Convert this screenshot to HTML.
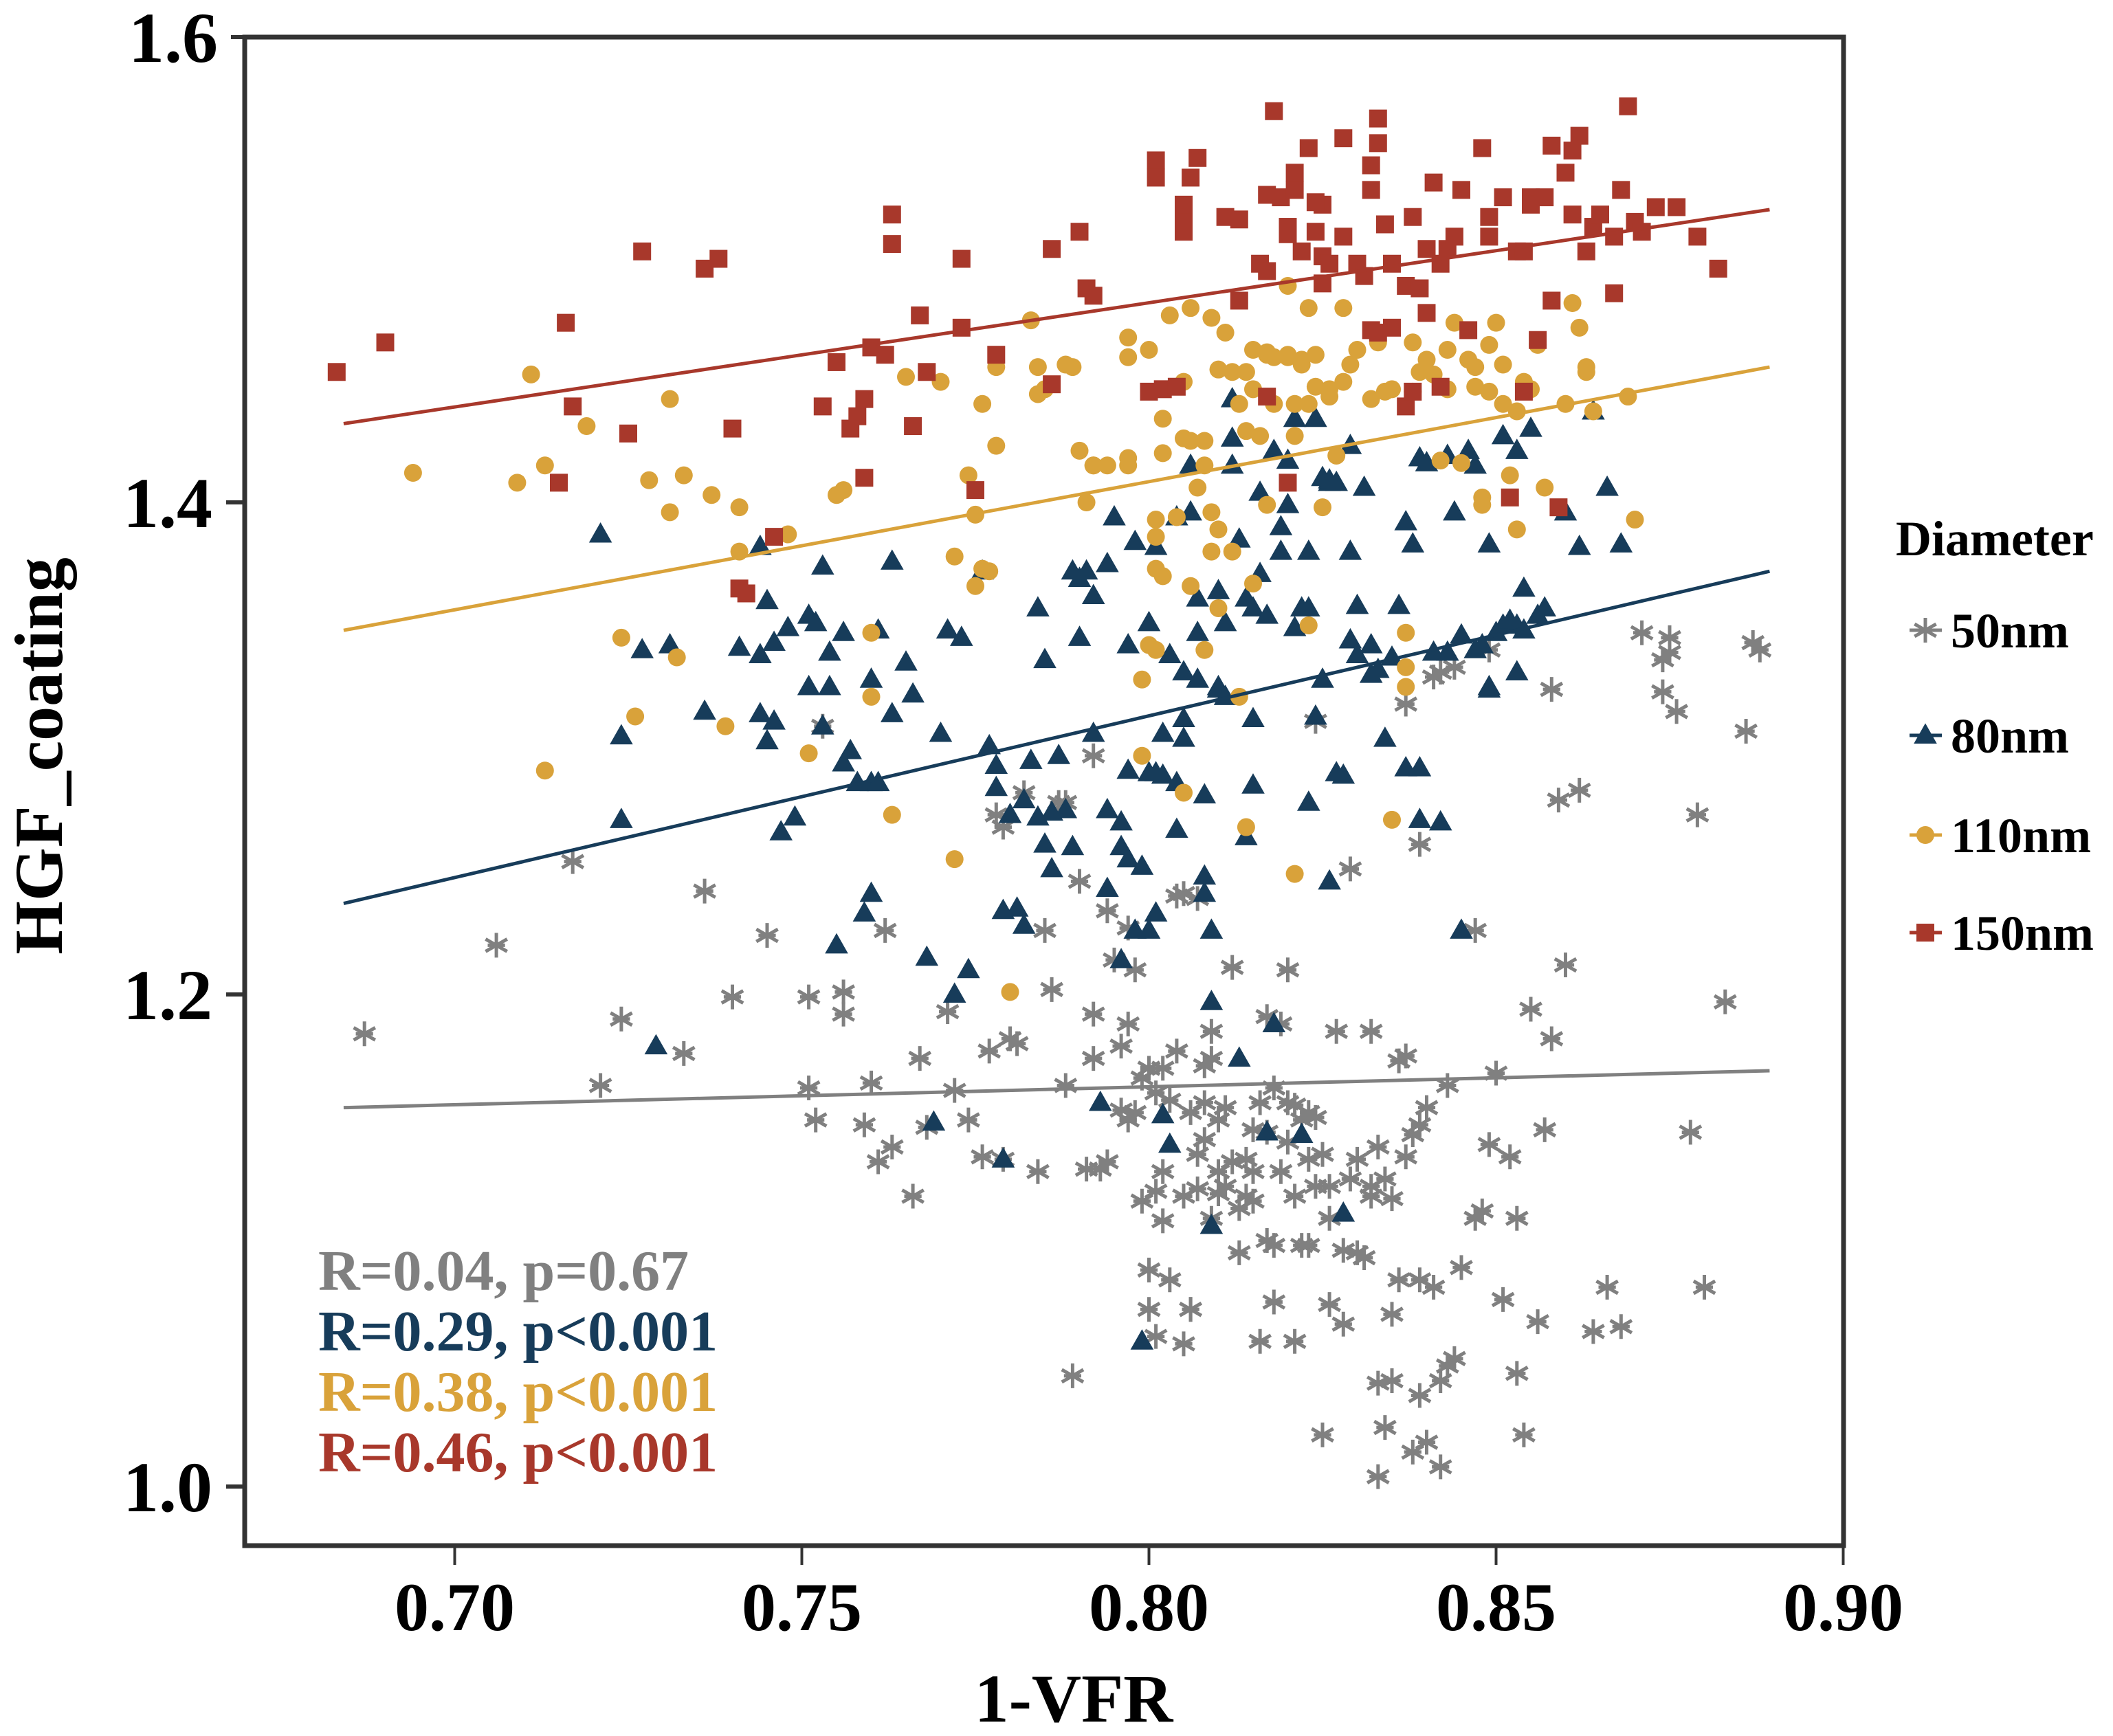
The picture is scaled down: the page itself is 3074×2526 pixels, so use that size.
<!DOCTYPE html>
<html><head><meta charset="utf-8"><style>
html,body{margin:0;padding:0;background:#fff;}
svg{display:block;}
text{font-family:"Liberation Serif",serif;font-weight:bold;}
</style></head>
<body>
<svg id="chart" width="3074" height="2526" viewBox="0 0 3074 2526" xmlns="http://www.w3.org/2000/svg">
<g id="marks"></g>
<rect x="356" y="54" width="2326" height="2195" fill="none" stroke="#333" stroke-width="7"/>
<g id="axes"></g>
<text x="1562" y="2505" font-size="100" text-anchor="middle">1-VFR</text>
<text transform="translate(90,1100) rotate(-90)" font-size="100" text-anchor="middle">HGF_coating</text>
<g font-size="84">
<text x="463" y="1877" fill="#808080">R=0.04, p=0.67</text>
<text x="463" y="1965" fill="#173c5a">R=0.29, p&lt;0.001</text>
<text x="463" y="2053" fill="#d9a23a">R=0.38, p&lt;0.001</text>
<text x="463" y="2141" fill="#a8382b">R=0.46, p&lt;0.001</text>
</g>
<g id="legend">
<text x="2758" y="808" font-size="72">Diameter</text>
</g>
</svg>
<script>
const xTicks=[0.70,0.75,0.80,0.85,0.90];
const xTickLabels=["0.70","0.75","0.80","0.85","0.90"];
const yTicks=[1.0,1.2,1.4];
const yTickLabels=["1.0","1.2","1.4"];
const seriesNames=["50nm","80nm","110nm","150nm"];
const lineX=[0.6840,0.8894];
const lineY50=[1.154,1.169];
const lineY80=[1.237,1.372];
const lineY110=[1.348,1.455];
const lineY150=[1.432,1.519];
const x150=[0.683,0.690,0.716,0.717,0.715,0.727,0.725,0.736,0.738,0.740,0.741,0.742,0.746,0.753,0.755,0.757,0.758,0.759,0.759,0.763,0.763,0.760,0.762,0.766,0.767,0.768,0.773,0.773,0.775,0.778,0.786,0.786,0.790,0.791,0.792,0.801,0.801,0.800,0.802,0.804,0.806,0.805,0.805,0.807,0.805,0.811,0.813,0.813,0.816,0.817,0.817,0.818,0.819,0.820,0.821,0.820,0.821,0.817,0.820,0.822,0.823,0.824,0.825,0.825,0.824,0.825,0.826,0.828,0.828,0.830,0.831,0.832,0.832,0.833,0.833,0.834,0.832,0.833,0.835,0.835,0.837,0.837,0.838,0.839,0.840,0.840,0.841,0.842,0.843,0.844,0.845,0.846,0.848,0.849,0.849,0.851,0.852,0.853,0.854,0.855,0.855,0.857,0.858,0.858,0.859,0.860,0.861,0.861,0.862,0.863,0.864,0.865,0.867,0.867,0.868,0.869,0.870,0.871,0.873,0.876,0.879,0.882,0.856,0.854,0.842,0.838];
const y150=[1.453,1.465,1.473,1.439,1.408,1.502,1.428,1.495,1.499,1.430,1.365,1.363,1.386,1.439,1.457,1.430,1.435,1.410,1.442,1.517,1.505,1.463,1.460,1.431,1.476,1.453,1.499,1.471,1.405,1.460,1.503,1.448,1.510,1.487,1.484,1.539,1.532,1.445,1.446,1.447,1.532,1.516,1.510,1.540,1.521,1.516,1.515,1.482,1.497,1.494,1.525,1.559,1.524,1.512,1.527,1.509,1.534,1.443,1.408,1.502,1.544,1.510,1.500,1.521,1.522,1.489,1.497,1.508,1.548,1.497,1.492,1.537,1.527,1.546,1.556,1.513,1.470,1.469,1.497,1.471,1.439,1.488,1.516,1.487,1.503,1.477,1.530,1.497,1.503,1.508,1.527,1.470,1.544,1.516,1.508,1.524,1.402,1.502,1.502,1.524,1.521,1.524,1.482,1.545,1.398,1.534,1.543,1.517,1.549,1.502,1.512,1.517,1.508,1.485,1.527,1.561,1.514,1.510,1.520,1.520,1.508,1.495,1.466,1.445,1.447,1.445];
const x110=[0.694,0.709,0.711,0.713,0.713,0.719,0.724,0.726,0.728,0.731,0.731,0.732,0.733,0.737,0.739,0.741,0.741,0.748,0.751,0.755,0.756,0.760,0.760,0.763,0.765,0.770,0.772,0.772,0.774,0.775,0.775,0.776,0.776,0.777,0.778,0.778,0.780,0.783,0.784,0.784,0.785,0.788,0.789,0.790,0.791,0.792,0.792,0.794,0.797,0.797,0.797,0.797,0.799,0.799,0.800,0.800,0.801,0.801,0.801,0.801,0.802,0.802,0.802,0.803,0.804,0.805,0.805,0.805,0.806,0.806,0.806,0.807,0.808,0.808,0.808,0.809,0.809,0.809,0.810,0.810,0.810,0.811,0.812,0.812,0.813,0.813,0.814,0.814,0.814,0.815,0.815,0.815,0.816,0.817,0.817,0.817,0.818,0.818,0.820,0.820,0.820,0.821,0.821,0.821,0.822,0.822,0.823,0.823,0.823,0.824,0.824,0.825,0.826,0.826,0.827,0.828,0.828,0.829,0.830,0.832,0.833,0.834,0.835,0.835,0.837,0.837,0.837,0.838,0.838,0.839,0.840,0.841,0.842,0.843,0.843,0.844,0.845,0.846,0.847,0.847,0.848,0.848,0.849,0.849,0.850,0.851,0.851,0.852,0.853,0.853,0.854,0.855,0.856,0.857,0.860,0.861,0.862,0.863,0.863,0.864,0.869,0.870];
const y110=[1.412,1.408,1.452,1.415,1.291,1.431,1.345,1.313,1.409,1.442,1.396,1.337,1.411,1.403,1.309,1.398,1.380,1.387,1.298,1.403,1.405,1.321,1.347,1.273,1.451,1.449,1.255,1.378,1.411,1.366,1.395,1.440,1.373,1.372,1.423,1.455,1.201,1.474,1.455,1.444,1.446,1.456,1.455,1.421,1.400,1.415,1.415,1.415,1.467,1.415,1.459,1.418,1.328,1.297,1.462,1.342,1.393,1.340,1.386,1.373,1.434,1.370,1.420,1.476,1.394,1.426,1.282,1.449,1.479,1.425,1.366,1.406,1.340,1.415,1.425,1.396,1.380,1.475,1.454,1.389,1.357,1.469,1.453,1.380,1.440,1.321,1.268,1.453,1.429,1.462,1.367,1.446,1.427,1.460,1.399,1.461,1.459,1.440,1.459,1.488,1.460,1.440,1.427,1.249,1.458,1.456,1.479,1.440,1.350,1.460,1.447,1.398,1.443,1.446,1.419,1.479,1.449,1.456,1.462,1.442,1.465,1.445,1.446,1.271,1.325,1.333,1.347,1.465,1.445,1.453,1.458,1.452,1.417,1.462,1.446,1.473,1.416,1.458,1.455,1.447,1.402,1.399,1.445,1.464,1.473,1.456,1.440,1.411,1.389,1.437,1.449,1.446,1.464,1.406,1.440,1.481,1.471,1.453,1.455,1.437,1.443,1.393];
const x80=[0.721,0.724,0.724,0.727,0.729,0.731,0.736,0.741,0.744,0.744,0.744,0.745,0.746,0.746,0.745,0.747,0.748,0.749,0.751,0.751,0.752,0.753,0.753,0.754,0.754,0.755,0.756,0.756,0.757,0.758,0.759,0.760,0.760,0.760,0.761,0.761,0.763,0.763,0.765,0.766,0.768,0.769,0.770,0.771,0.772,0.773,0.774,0.776,0.777,0.778,0.778,0.779,0.779,0.780,0.781,0.782,0.782,0.783,0.784,0.784,0.785,0.785,0.786,0.786,0.787,0.788,0.789,0.789,0.790,0.790,0.791,0.792,0.792,0.793,0.794,0.794,0.794,0.795,0.796,0.796,0.796,0.797,0.797,0.797,0.798,0.798,0.799,0.799,0.800,0.800,0.800,0.801,0.801,0.801,0.802,0.802,0.802,0.803,0.803,0.804,0.804,0.804,0.805,0.805,0.805,0.806,0.806,0.807,0.807,0.807,0.808,0.808,0.808,0.809,0.809,0.809,0.810,0.810,0.810,0.811,0.811,0.812,0.812,0.812,0.813,0.813,0.814,0.814,0.815,0.815,0.815,0.816,0.816,0.817,0.817,0.818,0.818,0.819,0.819,0.820,0.820,0.821,0.821,0.822,0.822,0.823,0.823,0.823,0.824,0.824,0.825,0.825,0.826,0.826,0.826,0.827,0.827,0.828,0.828,0.829,0.829,0.829,0.830,0.830,0.831,0.832,0.832,0.833,0.834,0.835,0.836,0.837,0.837,0.838,0.839,0.839,0.839,0.840,0.841,0.842,0.843,0.843,0.844,0.845,0.845,0.846,0.847,0.847,0.848,0.849,0.849,0.849,0.850,0.851,0.851,0.852,0.853,0.853,0.853,0.854,0.854,0.855,0.856,0.857,0.860,0.862,0.864,0.866,0.868];
const y80=[1.387,1.305,1.271,1.340,1.179,1.342,1.315,1.341,1.314,1.382,1.338,1.360,1.343,1.311,1.303,1.266,1.349,1.272,1.354,1.325,1.351,1.309,1.374,1.339,1.325,1.220,1.294,1.347,1.299,1.286,1.233,1.241,1.328,1.286,1.348,1.286,1.376,1.314,1.335,1.322,1.215,1.148,1.306,1.348,1.200,1.345,1.210,1.372,1.301,1.284,1.293,1.234,1.133,1.273,1.235,1.228,1.279,1.295,1.272,1.357,1.261,1.336,1.251,1.274,1.297,1.275,1.260,1.372,1.369,1.345,1.372,1.362,1.306,1.156,1.243,1.375,1.275,1.394,1.214,1.260,1.270,1.255,1.291,1.342,1.384,1.226,1.059,1.252,1.351,1.290,1.226,1.233,1.290,1.382,1.306,1.151,1.289,1.139,1.338,1.267,1.286,1.394,1.304,1.312,1.331,1.396,1.415,1.328,1.361,1.347,1.281,1.241,1.248,1.197,1.106,1.226,1.324,1.364,1.325,1.351,1.321,1.442,1.415,1.426,1.174,1.385,1.361,1.264,1.357,1.312,1.285,1.404,1.371,1.354,1.144,1.421,1.188,1.390,1.380,1.417,1.399,1.349,1.434,1.357,1.143,1.278,1.357,1.380,1.313,1.434,1.410,1.328,1.408,1.246,1.409,1.408,1.290,1.111,1.289,1.423,1.380,1.344,1.358,1.338,1.406,1.330,1.342,1.332,1.304,1.337,1.358,1.292,1.392,1.383,1.418,1.292,1.271,1.416,1.339,1.270,1.419,1.339,1.396,1.226,1.346,1.421,1.340,1.415,1.342,1.383,1.325,1.324,1.347,1.427,1.350,1.352,1.331,1.421,1.350,1.365,1.348,1.430,1.354,1.357,1.396,1.382,1.437,1.406,1.383];
const x50=[0.687,0.706,0.717,0.721,0.724,0.733,0.736,0.740,0.745,0.751,0.751,0.752,0.753,0.756,0.756,0.759,0.760,0.761,0.762,0.763,0.766,0.767,0.768,0.771,0.772,0.774,0.776,0.777,0.778,0.779,0.779,0.780,0.781,0.782,0.784,0.785,0.786,0.787,0.788,0.788,0.789,0.790,0.791,0.792,0.792,0.792,0.793,0.794,0.794,0.795,0.796,0.796,0.797,0.797,0.797,0.798,0.798,0.799,0.799,0.800,0.800,0.800,0.801,0.801,0.801,0.802,0.802,0.802,0.803,0.803,0.804,0.804,0.805,0.805,0.805,0.806,0.806,0.806,0.807,0.807,0.807,0.808,0.808,0.808,0.809,0.809,0.809,0.810,0.810,0.810,0.811,0.811,0.812,0.812,0.813,0.813,0.814,0.814,0.815,0.815,0.815,0.816,0.816,0.817,0.817,0.817,0.818,0.818,0.818,0.819,0.819,0.820,0.820,0.820,0.821,0.821,0.821,0.822,0.822,0.823,0.823,0.823,0.824,0.824,0.824,0.825,0.825,0.826,0.826,0.826,0.827,0.828,0.828,0.829,0.829,0.830,0.830,0.831,0.832,0.832,0.832,0.833,0.833,0.833,0.834,0.834,0.835,0.835,0.835,0.836,0.836,0.837,0.837,0.837,0.838,0.838,0.839,0.839,0.839,0.839,0.840,0.840,0.841,0.841,0.842,0.842,0.842,0.843,0.843,0.844,0.844,0.845,0.847,0.847,0.848,0.849,0.849,0.850,0.851,0.852,0.853,0.853,0.854,0.855,0.856,0.857,0.858,0.858,0.859,0.860,0.862,0.864,0.866,0.868,0.871,0.874,0.875,0.875,0.876,0.874,0.878,0.879,0.880,0.883,0.886,0.887,0.888];
const y50=[1.184,1.220,1.254,1.163,1.190,1.176,1.242,1.199,1.224,1.199,1.162,1.149,1.309,1.201,1.192,1.147,1.164,1.132,1.226,1.138,1.118,1.174,1.146,1.193,1.161,1.149,1.134,1.177,1.273,1.268,1.133,1.182,1.180,1.282,1.128,1.226,1.202,1.278,1.278,1.163,1.045,1.246,1.129,1.192,1.174,1.297,1.129,1.132,1.234,1.214,1.179,1.153,1.188,1.227,1.149,1.210,1.152,1.166,1.116,1.170,1.072,1.088,1.160,1.061,1.120,1.170,1.128,1.108,1.084,1.157,1.177,1.240,1.118,1.241,1.058,1.072,1.152,1.072,1.121,1.239,1.135,1.171,1.156,1.141,1.185,1.109,1.174,1.149,1.119,1.128,1.122,1.154,1.132,1.211,1.095,1.113,1.118,1.133,1.145,1.116,1.128,1.059,1.156,1.144,1.100,1.191,1.162,1.098,1.075,1.188,1.128,1.156,1.210,1.140,1.155,1.059,1.118,1.098,1.149,1.152,1.133,1.098,1.311,1.122,1.150,1.021,1.135,1.122,1.109,1.074,1.185,1.066,1.096,1.125,1.251,1.095,1.133,1.093,1.122,1.118,1.185,1.042,1.004,1.138,1.125,1.024,1.070,1.117,1.043,1.173,1.084,1.134,1.318,1.175,1.143,1.014,1.084,1.147,1.037,1.261,1.018,1.154,1.081,1.329,1.043,1.008,1.331,1.049,1.163,1.052,1.333,1.089,1.109,1.226,1.112,1.340,1.139,1.168,1.076,1.134,1.109,1.046,1.021,1.194,1.067,1.145,1.324,1.182,1.279,1.212,1.283,1.063,1.081,1.065,1.347,1.323,1.345,1.339,1.315,1.336,1.144,1.273,1.081,1.197,1.307,1.343,1.340,1.337];

const NS="http://www.w3.org/2000/svg";
const X0=661.5, XPX=505/0.05, Y0=2163, YPX=716/0.2;
function sx(v){return X0+(v-0.70)*XPX;}
function sy(v){return Y0-(v-1.0)*YPX;}
function mk(tag,attrs,parent){const e=document.createElementNS(NS,tag);for(const k in attrs)e.setAttribute(k,attrs[k]);parent.appendChild(e);return e;}
const COL={"50nm":"#808080","80nm":"#173c5a","110nm":"#d9a23a","150nm":"#a8382b"};
function star(g,cx,cy,col,name){
  const grp=mk('g',{},g);
  
  
  const r=18;
  const d=`M${cx},${cy-r}V${cy+r}M${cx-r*0.87},${cy-r*0.5}L${cx+r*0.87},${cy+r*0.5}M${cx-r*0.87},${cy+r*0.5}L${cx+r*0.87},${cy-r*0.5}M${cx-r*0.7},${cy}H${cx+r*0.7}`;
  mk('path',{d:d,stroke:col,'stroke-width':5,fill:'none'},grp);
}
function tri(g,cx,cy,col,name){
  const s=16;
  const p=mk('polygon',{points:`${cx},${cy-s*1.1} ${cx-s*1.05},${cy+s*0.75} ${cx+s*1.05},${cy+s*0.75}`,fill:col},g);
  
  
}
function circ(g,cx,cy,col,name){
  const c=mk('circle',{cx:cx,cy:cy,r:13,fill:col},g);
  
  
}
function sq(g,cx,cy,col,name){
  const r=mk('rect',{x:cx-13,y:cy-13,width:26,height:26,fill:col},g);
  
  
}
const marks=document.getElementById('marks');
const seriesData=[["50nm",x50,y50,star],["80nm",x80,y80,tri],["110nm",x110,y110,circ],["150nm",x150,y150,sq]];
seriesData.forEach(([nm,xs,ys,fn])=>{
  const g=mk('g',{},marks);
  
  
  for(let i=0;i<xs.length;i++) fn(g,sx(xs[i]),sy(ys[i]),COL[nm],'point-'+nm);
});
const fits=[["50nm",lineY50],["80nm",lineY80],["110nm",lineY110],["150nm",lineY150]];
fits.forEach(([nm,ly])=>{
  const l=mk('line',{x1:sx(lineX[0]),y1:sy(ly[0]),x2:sx(lineX[1]),y2:sy(ly[1]),stroke:COL[nm],'stroke-width':5},marks);
  
  
});
const axes=document.getElementById('axes');
xTicks.forEach((v,i)=>{
  const t=mk('line',{x1:sx(v),y1:2252,x2:sx(v),y2:2277,stroke:'#333','stroke-width':4},axes);
  
  
  const tx=mk('text',{x:sx(v),y:2372,'font-size':100,'text-anchor':'middle'},axes);
  tx.textContent=xTickLabels[i];
  
  
});
yTicks.forEach((v,i)=>{
  const t=mk('line',{x1:329,y1:sy(v),x2:353,y2:sy(v),stroke:'#333','stroke-width':6},axes);
  
  
  const tx=mk('text',{x:309,y:sy(v)+36,'font-size':104,'text-anchor':'end'},axes);
  tx.textContent=yTickLabels[i];
  
  
});
// top tick (1.6) sits at the frame top in the reference
const tt=mk('line',{x1:336,y1:54,x2:353,y2:54,stroke:'#333','stroke-width':6},axes);


const tl=mk('text',{x:317,y:90,'font-size':104,'text-anchor':'end'},axes);
tl.textContent="1.6";



const legend=document.getElementById('legend');
const legY=[917,1070,1215,1357];
const legFns=[star,tri,circ,sq];
seriesNames.forEach((nm,i)=>{
  const g=mk('g',{},legend);
  
  
  mk('line',{x1:2778,y1:legY[i],x2:2825,y2:legY[i],stroke:COL[nm],'stroke-width':5},g);
  legFns[i](g,2801,legY[i],COL[nm],'legend-symbol');
  const t=mk('text',{x:2838,y:legY[i]+25,'font-size':72},g);
  t.textContent=nm;
  
  
});
</script>
</body></html>
